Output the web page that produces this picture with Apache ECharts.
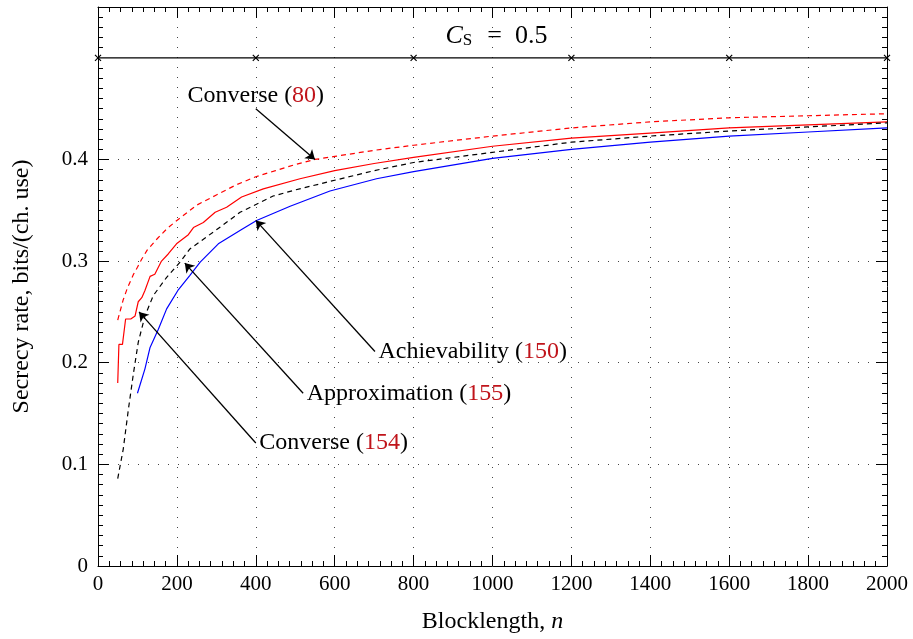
<!DOCTYPE html>
<html>
<head>
<meta charset="utf-8">
<script src="https://cdn.jsdelivr.net/npm/echarts@6/dist/echarts.min.js"></script>
<style>html,body{margin:0;padding:0;background:#fff}#c{width:913px;height:639px}</style>
</head>
<body>
<div id="c"></div>
<script>
// ---- data ----
const xTicks = [0,200,400,600,800,1000,1200,1400,1600,1800,2000];
const yTicks = [0,0.1,0.2,0.3,0.4];

const conv80N = [50,64,75,90,100,111,125,150,175,200,250,300,350,400,450,500,550,600,700,800,1000,1200,1400,1600,1800,2000];
const conv80V = [0.242,0.262,0.274,0.287,0.294,0.302,0.311,0.322,0.332,0.340,0.355,0.365,0.375,0.383,0.389,0.395,0.400,0.403,0.409,0.414,0.423,0.431,0.437,0.441,0.443,0.445];

const conv154N = [50,53,62,70,83,94,102,111,119,132,144,161,178,199,229,242,267,297,326,364,419,512,600,700,800,1000,1200,1400,1600,1800,2000];
const conv154V = [0.180,0.218,0.218,0.243,0.243,0.246,0.260,0.264,0.271,0.285,0.287,0.300,0.307,0.317,0.326,0.333,0.338,0.348,0.353,0.363,0.371,0.381,0.389,0.396,0.402,0.413,0.421,0.426,0.431,0.434,0.437];

const approxN = [50,64,77,90,102,119,140,174,208,233,301,360,444,500,605,700,800,1000,1200,1400,1600,1800,2000];
const approxV = [0.086,0.115,0.154,0.190,0.220,0.246,0.266,0.284,0.299,0.312,0.331,0.348,0.364,0.370,0.380,0.389,0.397,0.407,0.417,0.423,0.428,0.432,0.436];

const achN = [100,104,119,132,153,174,204,233,259,305,364,402,487,588,706,800,1000,1200,1400,1600,1800,2000];
const achV = [0.170,0.171,0.194,0.215,0.233,0.253,0.272,0.286,0.299,0.317,0.331,0.340,0.354,0.369,0.381,0.388,0.401,0.410,0.417,0.423,0.427,0.431];

const capN = [0,400,800,1200,1600,2000];
const capV = [0.5,0.5,0.5,0.5,0.5,0.5];
const capLabelAt = [1010,0.5];

const annNames = ['Converse','Achievability','Approximation','Converse'];
const annNums = ['80','150','155','154'];
const annFrom = [[400,0.450],[702,0.211],[520,0.170],[400,0.121]];
const annTo = [[550,0.400],[400,0.340],[220,0.298],[104,0.250]];
const annPos = ['top','right','right','right'];

// ---- chart ----
const zip = (a,b) => a.map((v,i)=>[v,b[i]]);
const FONT = 'Liberation Serif';
const chart = echarts.init(document.getElementById('c'));

const rich = {
  t:{fontFamily:FONT,fontSize:24,color:'#000'},
  r:{fontFamily:FONT,fontSize:24,color:'#c0141b'}
};

const gridLine = {show:true,lineStyle:{color:'#444',width:1,type:[1,9]}};

const option = {
  animation:false,
  backgroundColor:'#fff',
  grid:{left:98,right:26,top:7,bottom:72,containLabel:false},
  xAxis:[{
    type:'value',min:0,max:2000,interval:200,
    axisLine:{show:true,onZero:false,lineStyle:{color:'#000',width:1}},
    axisTick:{show:true,inside:true,length:11,lineStyle:{color:'#000'}},
    minorTick:{show:true,splitNumber:7,length:5,lineStyle:{color:'#000'}},
    axisLabel:{fontFamily:FONT,fontSize:21,color:'#000',margin:8,formatter:v=>String(v)},
    splitLine:gridLine,
    name:'{t|Blocklength, }{i|n}',nameLocation:'middle',nameGap:44,
    nameTextStyle:{rich:{t:{fontFamily:FONT,fontSize:24,color:'#000'},i:{fontFamily:FONT,fontSize:24,fontStyle:'italic',color:'#000'}}}
  },{
    type:'value',position:'top',min:0,max:2000,interval:200,
    axisLine:{show:true,onZero:false,lineStyle:{color:'#000',width:1}},
    axisTick:{show:true,inside:true,length:11,lineStyle:{color:'#000'}},
    minorTick:{show:true,splitNumber:7,length:5,lineStyle:{color:'#000'}},
    axisLabel:{show:false},splitLine:{show:false}
  }],
  yAxis:[{
    type:'value',min:0,max:0.55,interval:0.1,
    axisLine:{show:true,onZero:false,lineStyle:{color:'#000',width:1}},
    axisTick:{show:true,inside:true,length:11,lineStyle:{color:'#000'},
      customValues:yTicks},
    minorTick:{show:true,splitNumber:10,length:5,lineStyle:{color:'#000'}},
    axisLabel:{fontFamily:FONT,fontSize:21,color:'#000',margin:10,customValues:yTicks,
      formatter:v=>String(Math.round(v*10)/10)},
    splitLine:{show:true,lineStyle:{color:'#444',width:1,type:[1,9]},showMinLine:false},
    name:'Secrecy rate, bits/(ch. use)',nameLocation:'middle',nameGap:64,
    nameTextStyle:{fontFamily:FONT,fontSize:24,color:'#000'}
  },{
    type:'value',position:'right',min:0,max:0.55,interval:0.1,
    axisLine:{show:true,onZero:false,lineStyle:{color:'#000',width:1}},
    axisTick:{show:true,inside:true,length:11,lineStyle:{color:'#000'},customValues:yTicks},
    minorTick:{show:true,splitNumber:10,length:5,lineStyle:{color:'#000'}},
    axisLabel:{show:false},splitLine:{show:false}
  }],
  series:[
    {name:'conv80',type:'line',data:zip(conv80N,conv80V),showSymbol:false,
      lineStyle:{color:'#ff0000',width:1.2,type:[5,4]},z:3},
    {name:'conv154',type:'line',data:zip(conv154N,conv154V),showSymbol:false,
      lineStyle:{color:'#ff0000',width:1.2},z:3},
    {name:'approx',type:'line',data:zip(approxN,approxV),showSymbol:false,
      lineStyle:{color:'#000',width:1.2,type:[5,4]},z:3},
    {name:'ach',type:'line',data:zip(achN,achV),showSymbol:false,
      lineStyle:{color:'#0000ff',width:1.2},z:3},
    {name:'cap',type:'line',data:zip(capN,capV),
      symbol:'path://M0,0L10,10M10,0L0,10',symbolSize:6,
      itemStyle:{color:'#000',borderColor:'#000',borderWidth:1.2},
      lineStyle:{color:'#000',width:1.3},z:4,
      markPoint:{symbol:'circle',symbolSize:1,itemStyle:{color:'rgba(0,0,0,0)'},
        data:[{coord:capLabelAt,label:{show:true,position:'top',distance:8,
          formatter:'{c|C}{s|S}{n|  =  0.5}',
          rich:{c:{fontFamily:FONT,fontSize:26,fontStyle:'italic',color:'#000',verticalAlign:'bottom',lineHeight:28},
                s:{fontFamily:FONT,fontSize:17,color:'#000',padding:[0,2,0,0],verticalAlign:'bottom',lineHeight:22},
                n:{fontFamily:FONT,fontSize:26,color:'#000',verticalAlign:'bottom',lineHeight:28}}}}]}
    },
    {name:'annot',type:'line',data:[],z:5,
      markLine:{silent:true,animation:false,
        lineStyle:{color:'#000',width:1.3,type:'solid'},label:{show:false},
        data:annFrom.map((f,i)=>[{coord:f,symbol:'none'},{coord:annTo[i],symbol:'arrow',symbolSize:9}])},
      markPoint:{symbol:'circle',symbolSize:1,itemStyle:{color:'rgba(0,0,0,0)'},
        data:annFrom.map((f,i)=>({coord:f,label:{show:true,position:annPos[i],distance:annPos[i]==='top'?0:3,
          formatter:'{t|'+annNames[i]+' (}{r|'+annNums[i]+'}{t|)}',rich:rich}}))}
    }
  ]
};
chart.setOption(option);
</script>
</body>
</html>
